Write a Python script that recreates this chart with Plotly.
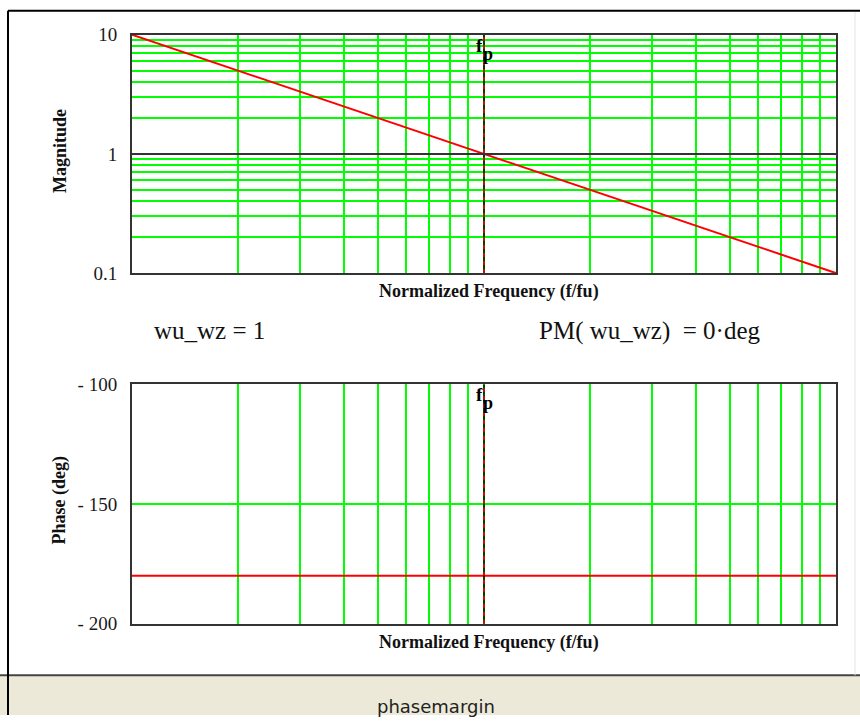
import plotly.graph_objects as go
import math

# ---- data ----
freq = [0.1, 1, 10]            # normalized frequency f/fu
magnitude = [10, 1, 0.1]       # |H|
phase = [-180, -180, -180]     # deg
fp = 1                          # marker frequency f_p
wu_wz = 1
pm_deg = 0

x_grid = [0.1, 0.2, 0.3, 0.4, 0.5, 0.6, 0.7, 0.8, 0.9, 1,
          2, 3, 4, 5, 6, 7, 8, 9, 10]
mag_ticks = [0.1, 0.2, 0.3, 0.4, 0.5, 0.6, 0.7, 0.8, 0.9, 1,
             2, 3, 4, 5, 6, 7, 8, 9, 10]
mag_labels = ["0.1", "", "", "", "", "", "", "", "", "1",
              "", "", "", "", "", "", "", "", "10"]
phase_ticks = [-200, -150, -100]
phase_labels = ["- 200", "- 150", "- 100"]

SERIF = "Liberation Serif, Times New Roman, serif"
GREEN = "#00FF00"
W, H = 860, 726

# calibration of the vertical page position -> layout pixel
def Y(ys):
    return (ys - 8.1) / 0.9777

fig = go.Figure()

fig.add_trace(go.Scatter(x=freq, y=magnitude, mode="lines",
                         line=dict(color="#FF0000", width=2),
                         xaxis="x", yaxis="y", showlegend=False))
fig.add_trace(go.Scatter(x=[fp, fp], y=[min(mag_ticks), max(mag_ticks)], mode="lines",
                         line=dict(color="#000000", width=1.5),
                         xaxis="x", yaxis="y", showlegend=False))
fig.add_trace(go.Scatter(x=[fp, fp], y=[min(mag_ticks), max(mag_ticks)], mode="lines",
                         line=dict(color="#FF0000", width=1.5, dash="4px,4px"),
                         xaxis="x", yaxis="y", showlegend=False))

fig.add_trace(go.Scatter(x=freq, y=phase, mode="lines",
                         line=dict(color="#FF0000", width=2),
                         xaxis="x2", yaxis="y2", showlegend=False))
fig.add_trace(go.Scatter(x=[fp, fp], y=[min(phase_ticks), max(phase_ticks)], mode="lines",
                         line=dict(color="#000000", width=1.5),
                         xaxis="x2", yaxis="y2", showlegend=False))
fig.add_trace(go.Scatter(x=[fp, fp], y=[min(phase_ticks), max(phase_ticks)], mode="lines",
                         line=dict(color="#FF0000", width=1.5, dash="4px,4px"),
                         xaxis="x2", yaxis="y2", showlegend=False))

xd = [132 / W, 836 / W]
top_d = [1 - Y(273) / H, 1 - Y(33) / H]
bot_d = [1 - Y(626) / H, 1 - Y(385) / H]

common_x = dict(type="log", range=[-1, 1], tickvals=x_grid, showticklabels=False,
                showgrid=True, gridcolor=GREEN, gridwidth=2, ticks="",
                showline=True, linecolor="#333333", linewidth=2, mirror=True,
                zeroline=False, domain=xd)

tickfont = dict(family=SERIF, size=19, color="#1a1a1a")
fig.update_layout(
    width=W, height=H, margin=dict(l=0, r=0, t=0, b=0),
    paper_bgcolor="white", plot_bgcolor="white",
    xaxis=dict(common_x, anchor="y"),
    yaxis=dict(type="log", range=[-1, 1], domain=top_d, anchor="x",
               tickvals=mag_ticks, ticktext=mag_labels,
               showgrid=True, gridcolor=GREEN, gridwidth=2, ticks="",
               showline=True, linecolor="#333333", linewidth=2, mirror=True,
               ticklabelstandoff=9, tickfont=tickfont),
    xaxis2=dict(common_x, anchor="y2"),
    yaxis2=dict(range=[-200, -100], domain=bot_d, anchor="x2",
                tickvals=phase_ticks, ticktext=phase_labels,
                showgrid=True, gridcolor=GREEN, gridwidth=2, ticks="",
                showline=True, linecolor="#333333", linewidth=2, mirror=True,
                zeroline=False, ticklabelstandoff=9, tickfont=tickfont),
)

shapes = []
shapes.append(dict(type="line", xref="x domain", yref="y", x0=0, x1=1, y0=1, y1=1,
                   line=dict(color="#333333", width=2)))
band_top = 1 - Y(678) / H
shapes.append(dict(type="rect", xref="paper", yref="paper", x0=0, x1=1,
                   y0=0, y1=band_top, fillcolor="#ECE9D8", line=dict(width=0),
                   layer="below"))
shapes.append(dict(type="line", xref="paper", yref="paper", x0=0, x1=1,
                   y0=band_top, y1=band_top, line=dict(color="#444444", width=2)))
shapes.append(dict(type="line", xref="paper", yref="paper", x0=8 / W, x1=8 / W,
                   y0=0, y1=0.999, line=dict(color="#000000", width=2)))
shapes.append(dict(type="line", xref="paper", yref="paper", x0=8 / W, x1=1,
                   y0=0.999, y1=0.999, line=dict(color="#000000", width=2)))
shapes.append(dict(type="line", xref="paper", yref="paper", x0=855 / W, x1=855 / W,
                   y0=band_top, y1=0.997, line=dict(color="#E4E4E4", width=1)))
fig.update_layout(shapes=shapes)

ann = []
def px(xp, yp, text, size, family=SERIF, xanchor="center", angle=0, color="#111"):
    ann.append(dict(xref="paper", yref="paper", x=xp / W, y=1 - Y(yp) / H, text=text,
                    showarrow=False, xanchor=xanchor, yanchor="middle",
                    textangle=angle, font=dict(family=family, size=size, color=color)))

px(60, 150, "<b>Magnitude</b>", 18, angle=-90)
px(60, 502, "<b>Phase (deg)</b>", 18, angle=-90)
px(489, 292, "<b>Normalized Frequency (f/fu)</b>", 18)
px(489, 645, "<b>Normalized Frequency (f/fu)</b>", 18)
px(152, 331, f"wu_wz = {wu_wz}", 25, xanchor="left")
px(537, 331, f"PM( wu_wz)  = {pm_deg}\u00b7deg", 25, xanchor="left")
px(436, 709, "phasemargin", 18, family="DejaVu Sans, Verdana, sans-serif", color="#222")

lx = math.log10(fp)
for xa, ya, ytop in (("x", "y", math.log10(max(mag_ticks))), ("x2", "y2", max(phase_ticks))):
    ann.append(dict(xref=xa, yref=ya, x=lx, y=ytop, text="<b>f</b>", showarrow=False,
                    xanchor="right", yanchor="top", xshift=1, yshift=2,
                    font=dict(family=SERIF, size=19, color="#000")))
    ann.append(dict(xref=xa, yref=ya, x=lx, y=ytop, text="<b>p</b>", showarrow=False,
                    xanchor="left", yanchor="top", xshift=-3, yshift=-7,
                    font=dict(family=SERIF, size=18, color="#000")))
fig.update_layout(annotations=ann)

fig.write_html("out.html")
